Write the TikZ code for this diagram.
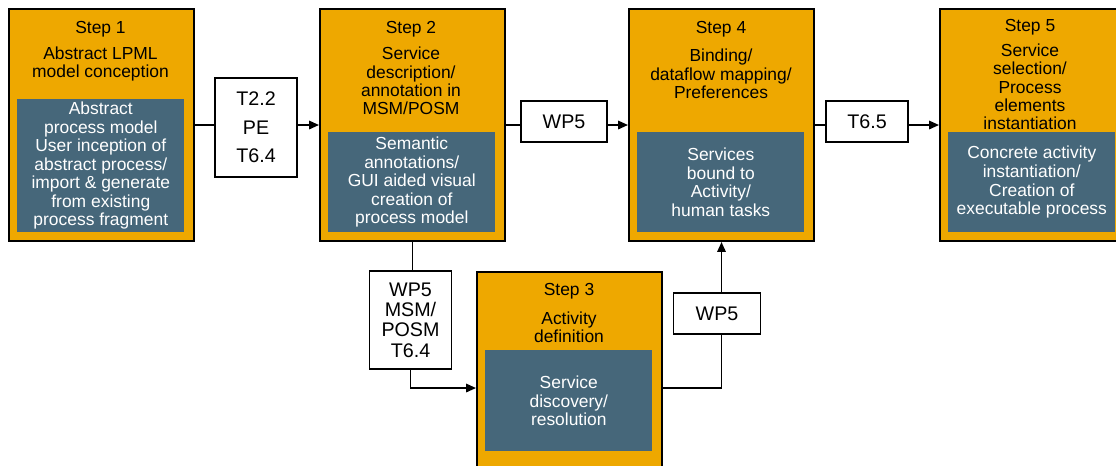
\documentclass[tikz,border=0pt]{standalone}
\usepackage{fontspec}
\setmainfont{Liberation Sans}
\usepackage{tikz}
\usetikzlibrary{arrows.meta, positioning}
\usepackage{xcolor}
\definecolor{stepOrange}{RGB}{238,168,0}
\definecolor{slateBlue}{RGB}{70,103,122}

\begin{document}
\begin{tikzpicture}[
    x=0.025cm, y=-0.025cm,
    stepBox/.style={rectangle, draw=black, line width=1.4pt, fill=stepOrange, minimum width=4.625cm, minimum height=5.8cm, anchor=north west, inner sep=0pt},
    innerBox/.style={rectangle, fill=slateBlue, text=white, minimum width=4.175cm, anchor=north west, inner sep=0pt, align=center, font=\fontsize{12.4}{13.2}\selectfont},
    titleText/.style={font=\fontsize{12.4}{13.2}\selectfont},
    headText/.style={align=center, font=\fontsize{12.4}{13}\selectfont},
    labelBox/.style={rectangle, draw=black, line width=1pt, fill=white, align=center, inner sep=0pt, font=\fontsize{14}{14.4}\selectfont},
    flowRel/.style={line width=1.2pt},
    flowArrow/.style={-{Triangle[length=7pt, width=6pt]}, line width=1.2pt}
]
    \useasboundingbox (0,0) rectangle (1116,466);
    \clip (0,0) rectangle (1116,466);

    % Step Boxes
    \node[stepBox] (s1) at (8,8) {};
    \node[stepBox] (s2) at (319,8) {};
    \node[stepBox] (s3) at (476,271) {};
    \node[stepBox] (s4) at (628,8) {};
    \node[stepBox] (s5) at (939,8) {};

    % Titles and Headings
    \node[titleText] (s1t) at (100.5,29) {Step 1};
    \node[headText]  (s1h) at (100.5,64) {Abstract LPML\\model conception};
    \node[titleText] (s2t) at (411,29) {Step 2};
    \node[headText]  (s2h) at (411,81) {Service\\description/\\annotation in\\MSM/POSM};
    \node[titleText] (s3t) at (569,291) {Step 3};
    \node[headText]  (s3h) at (569,327) {Activity\\definition};
    \node[titleText] (s4t) at (721,29) {Step 4};
    \node[headText]  (s4h) at (721,74) {Binding/\\dataflow mapping/\\Preferences};
    \node[titleText] (s5t) at (1030,27) {Step 5};
    \node[headText]  (s5h) at (1030,87) {Service\\selection/\\Process\\elements\\instantiation};

    % Inner Boxes
    \node[innerBox, minimum height=3.325cm] (s1in) at (17,99) {Abstract\\process model\\User inception of\\abstract process/\\import \& generate\\from existing\\process fragment};
    \node[innerBox, minimum height=2.5cm] (s2in) at (328,132) {Semantic\\annotations/\\GUI aided visual\\creation of\\process model};
    \node[innerBox, minimum height=2.525cm] (s3in) at (485,350) {Service\\discovery/\\resolution};
    \node[innerBox, minimum height=2.5cm] (s4in) at (637,132) {Services\\bound to\\Activity/\\human tasks};
    \node[innerBox, minimum height=2.5cm] (s5in) at (948,132) {Concrete activity\\instantiation/\\Creation of\\executable process};

    % Work Package Labels
    \node[labelBox, minimum width=2.05cm, minimum height=2.475cm] (t22) at (256,127.5) {T2.2\\[6pt]PE\\[6pt]T6.4};
    \node[labelBox, minimum width=2.15cm, minimum height=1.025cm] (wp5a) at (564,121.5) {WP5};
    \node[labelBox, minimum width=2.05cm, minimum height=1.025cm] (t65) at (867,121.5) {T6.5};
    \node[labelBox, minimum width=2.05cm, minimum height=2.45cm] (msm) at (410.5,320) {WP5\\MSM/\\POSM\\T6.4};
    \node[labelBox, minimum width=2.175cm, minimum height=1.025cm] (wp5b) at (717,313.5) {WP5};

    % Connectors
    \draw[flowRel] (s1.east) -- (s1.east -| t22.west);
    \draw[flowArrow] (t22.east |- s2.west) -- (s2.west);
    \draw[flowRel] (s2.east) -- (s2.east -| wp5a.west);
    \draw[flowArrow] (wp5a.east |- s4.west) -- (s4.west);
    \draw[flowRel] (s4.east) -- (s4.east -| t65.west);
    \draw[flowArrow] (t65.east |- s5.west) -- (s5.west);
    \draw[flowRel] (s2.south) -- (s2.south |- msm.north);
    \draw[flowArrow] (msm.south) |- (s3.west);
    \draw[flowRel] (s3.east) -| (s4.south |- wp5b.south);
    \draw[flowArrow] (s4.south |- wp5b.north) -- (s4.south);
\end{tikzpicture}
\end{document}
